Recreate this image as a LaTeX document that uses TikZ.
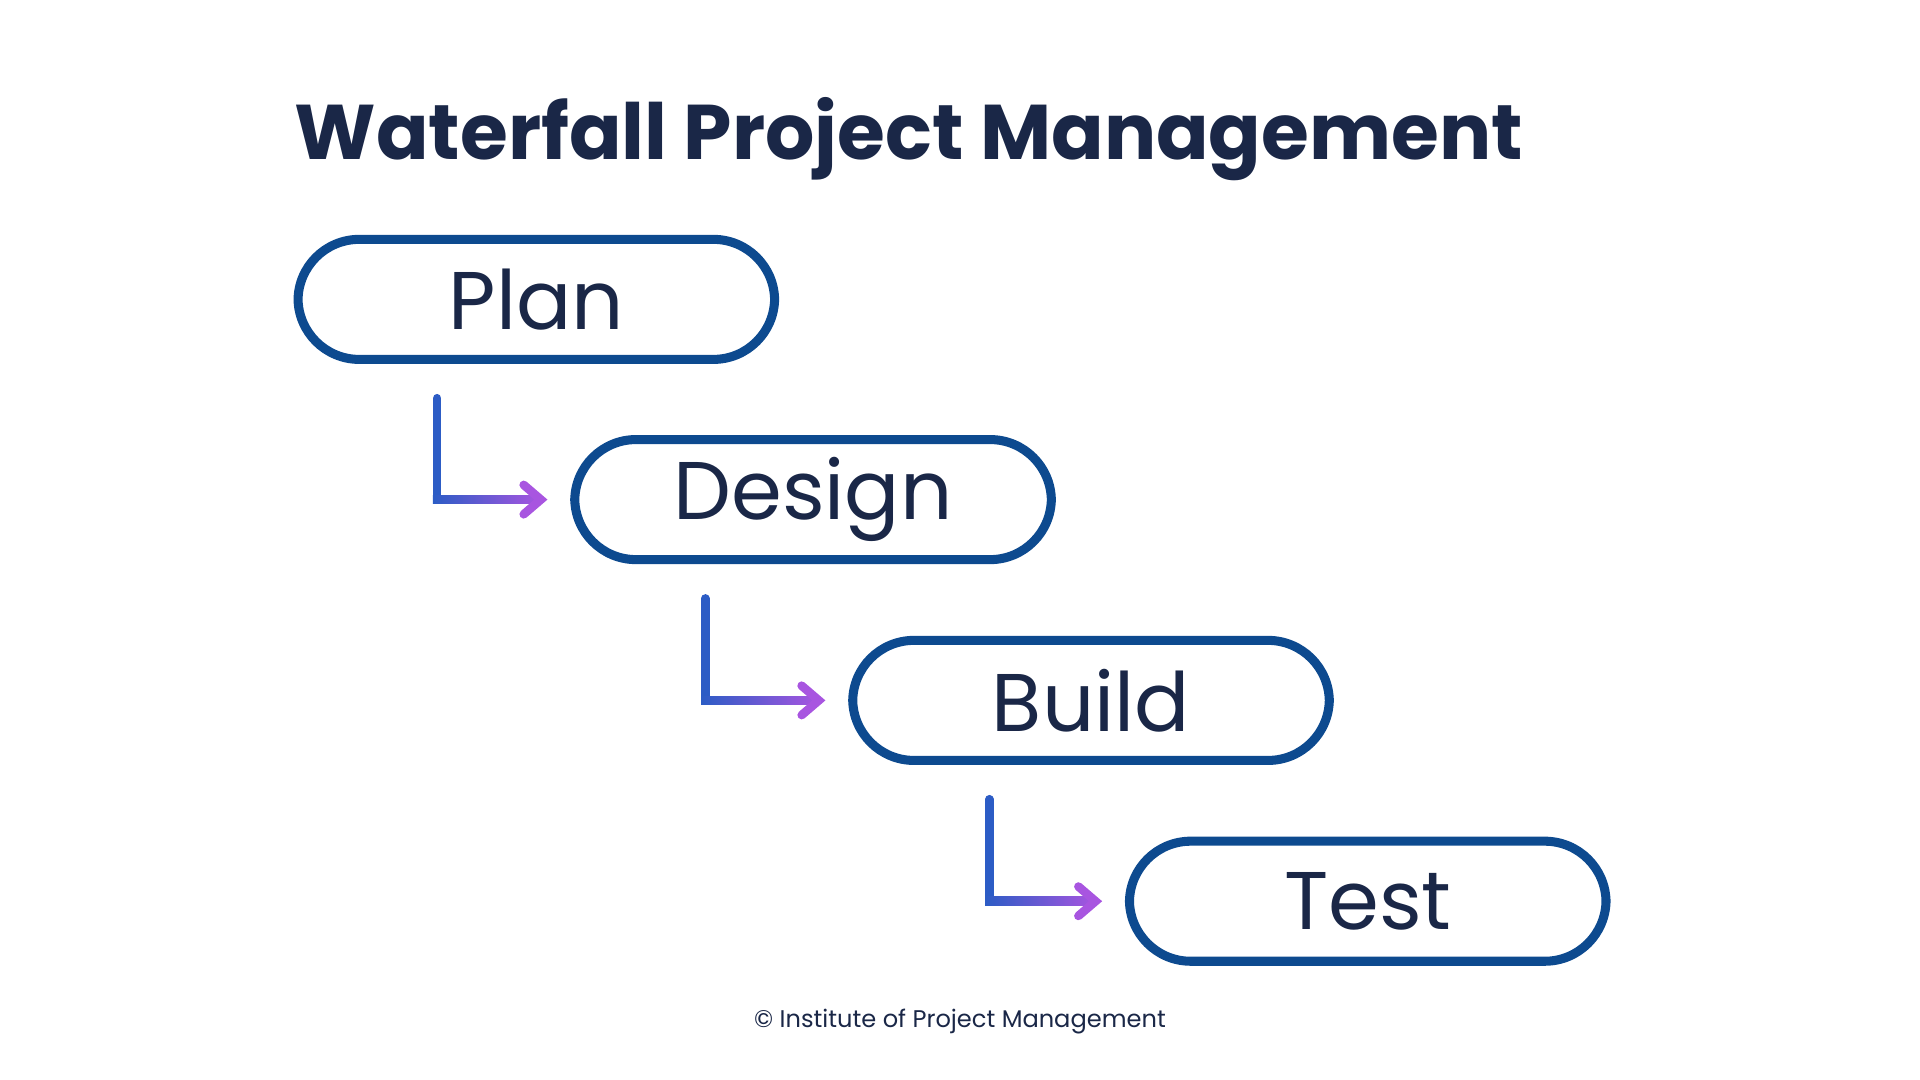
\documentclass[tikz,border=0pt]{standalone}
\usepackage{fontspec}
\setmainfont{Poppins}
\usetikzlibrary{calc}
\definecolor{pillc}{HTML}{0D4A8F}
\definecolor{txt}{HTML}{1A2747}
\definecolor{ablue}{HTML}{2C5CC5}
\definecolor{apurp}{HTML}{A855E0}
\begin{document}
\begin{tikzpicture}[x=0.01cm,y=-0.01cm,
  pill/.style={draw=pillc,line width=2.1pt,rounded corners=0.5cm,minimum width=3.89cm,minimum height=0.98cm,text=txt,font=\fontsize{19}{21}\selectfont,inner sep=0pt},
  vseg/.style={draw=ablue,line width=2pt,line cap=round},
  head/.style={draw=apurp,line width=2pt,line cap=round,line join=miter}]
\useasboundingbox (0,0) rectangle (1568,882);
\node[font=\fontsize{18}{20}\bfseries\selectfont,text=txt,anchor=west,inner sep=0pt] (title) at (240,114) {Waterfall Project Management};
\node[pill] (plan) at (438,244.5) {Plan};
\node[pill] (design) at (664,408) {Design};
\node[pill] (build) at (891,572) {Build};
\node[pill] (test) at (1117,736) {Test};
\node[font=\fontsize{5.6}{7}\selectfont,text=txt] (foot) at (784,834) {© Institute of Project Management};
\foreach \a/\b/\x in {plan/design/357,design/build/576,build/test/808}{
  \coordinate (s) at ($(\a.south)+(0,28)$);
  \coordinate (c) at (\x,0);
  \coordinate (st\b) at (c |- s);
  \coordinate (cn\b) at (c |- \b.west);
  \coordinate (e\b) at ($(\b.west)+(-24,0)$);
  \draw[vseg] (st\b) -- (cn\b);
  \shade[left color=ablue,right color=apurp] ($(cn\b)+(-3.5,-3.5)$) rectangle ($(e\b)+(0,3.5)$);
  \draw[head] ($(e\b)+(-14,-12)$) -- (e\b) -- ($(e\b)+(-14,12)$);
}
\end{tikzpicture}
\end{document}
